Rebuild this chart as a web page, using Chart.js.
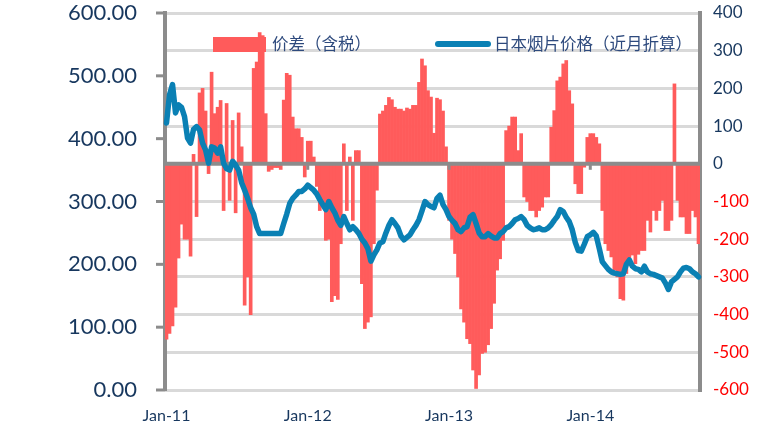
<!DOCTYPE html>
<html>
<head>
<meta charset="utf-8">
<script src="https://cdn.jsdelivr.net/npm/chart.js@4.4.1/dist/chart.umd.min.js"></script>
<style>
  html, body { margin: 0; padding: 0; background: #fff; }
  #wrap { width: 760px; height: 423px; }
</style>
</head>
<body>
<div id="wrap"><canvas id="chart"></canvas></div>
<script>
// weekly samples, Jan 2011 -> late 2014
const gapValues = [
  -465, -450, -430, -380, -250, -160, -200, -200, -245, 25,
  -140, 188, 200, 140, -26, 243, 133, 150, 168, -124,
  160, -97, 115, -130, 135, 45, -375, -300, -400, 253,
  270, 348, 340, 133, -20, -15, -10, -10, -15, 169,
  240, 235, 124, 93, 93, 70, -35, 60, 60, 18,
  -60, -124, -110, -203, -200, -366, -350, -360, -212, 53,
  -124, 18, -150, 35, 35, -318, -437, -420, -406, -212,
  -70, 132, 140, 155, 176, 170, 150, 145, 145, 140,
  148, 145, 155, 155, 216, 278, 260, 194, 177, 81,
  174, 170, 140, 45, -150, -200, -238, -300, -385, -420,
  -464, -477, -547, -596, -560, -503, -500, -480, -437, -370,
  -282, -252, -203, 88, 100, 124, 124, 35, 80, -88,
  -100, -124, -124, -141, -124, -115, -88, -88, 97, 141,
  220, 230, 265, 274, 194, 159, -53, -79, -79, -9,
  70, 80, 80, 70, 53, -124, -212, -230, -247, -282,
  -300, -358, -362, -291, -265, -242, -265, -240, -230, -230,
  -150, -181, -124, -150, -124, -97, -177, -177, -150, 212,
  -97, -141, -141, -185, -185, -124, -141, -212
];
const jpPrices = [
  425, 470, 486, 441, 454, 450, 435, 401, 393, 415,
  419, 414, 393, 382, 361, 387, 385, 377, 387, 361,
  352, 350, 364, 358, 350, 330, 318, 305, 290, 280,
  260, 249, 249, 249, 249, 249, 249, 249, 249, 265,
  280, 297, 305, 310, 316, 316, 320, 326, 322, 318,
  312, 303, 295, 287, 300, 290, 282, 270, 262, 276,
  265, 255, 260, 255, 249, 240, 234, 225, 205, 215,
  223, 234, 236, 250, 262, 271, 265, 258, 245, 239,
  243, 247, 255, 262, 271, 285, 300, 295, 292, 290,
  305, 310, 295, 287, 276, 270, 265, 255, 252, 258,
  260, 275, 279, 265, 250, 244, 244, 249, 245, 242,
  242, 249, 252, 258, 260, 265, 271, 273, 276, 271,
  262, 258, 255, 256, 258, 255, 255, 258, 263, 270,
  276, 287, 284, 275, 268, 255, 235, 222, 221, 232,
  244, 247, 251, 245, 225, 204, 198, 192, 188, 186,
  185, 184, 185, 200, 207, 197, 193, 192, 188, 197,
  188, 185, 184, 182, 180, 178, 170, 160, 172, 176,
  180, 188, 194, 195, 193, 188, 185, 180
];
const yearLabels = ["Jan-11", "Jan-12", "Jan-13", "Jan-14"];
const yearStart = [0, 47, 94, 141]; // sample index where each year begins

const gapName = "价差（含税）";
const priceName = "日本烟片价格（近月折算）";

const red = "#FF5B5B";
const blue = "#0A80B4";
const navy = "#17375E";
const axisGray = "#8C8C8C";
const gridGray = "#D9D9D9";

const labels = gapValues.map((v, i) => String(i));

const overlay = {
  id: "overlay",
  afterDatasetDraw(chart, args) {
    if (args.index !== 0) return;
    const ctx = chart.ctx;
    const area = chart.chartArea;
    const y0 = chart.scales.y1.getPixelForValue(0);
    ctx.save();
    ctx.strokeStyle = axisGray;
    ctx.lineWidth = 4;
    ctx.beginPath();
    ctx.moveTo(area.left, y0);
    ctx.lineTo(area.right, y0);
    ctx.stroke();
    // little year marks hanging off the zero line
    ctx.lineWidth = 3;
    yearStart.slice(1).forEach((i) => {
      const px = chart.scales.x.getPixelForValue(i);
      ctx.beginPath();
      ctx.moveTo(px, y0);
      ctx.lineTo(px, y0 + 6);
      ctx.stroke();
    });
    ctx.restore();
  },
  afterDraw(chart) {
    const ctx = chart.ctx;
    const area = chart.chartArea;
    ctx.save();
    // short outside ticks on the left axis
    ctx.strokeStyle = axisGray;
    ctx.lineWidth = 3;
    chart.scales.y.ticks.forEach((t) => {
      const py = chart.scales.y.getPixelForValue(t.value);
      ctx.beginPath();
      ctx.moveTo(area.left - 9, py);
      ctx.lineTo(area.left, py);
      ctx.stroke();
    });
    // legend
    ctx.fillStyle = red;
    ctx.fillRect(213, 37, 53, 15);
    ctx.strokeStyle = blue;
    ctx.lineWidth = 6;
    ctx.lineCap = "round";
    ctx.beginPath();
    ctx.moveTo(438, 44);
    ctx.lineTo(488, 44);
    ctx.stroke();
    ctx.fillStyle = "#2E4A7D";
    ctx.font = "16.5px 'Noto Sans CJK SC'";
    ctx.textBaseline = "middle";
    ctx.fillText(gapName, 272, 44);
    ctx.fillText(priceName, 494, 44);
    ctx.restore();
  },
};

new Chart(document.getElementById("chart"), {
  data: {
    labels: labels,
    datasets: [
      {
        type: "bar",
        label: gapName,
        data: gapValues,
        yAxisID: "y1",
        backgroundColor: red,
        borderWidth: 0,
        barPercentage: 1,
        categoryPercentage: 1,
        order: 2,
      },
      {
        type: "line",
        label: priceName,
        data: jpPrices,
        yAxisID: "y",
        borderColor: blue,
        borderWidth: 5.5,
        pointRadius: 0,
        tension: 0,
        borderJoinStyle: "round",
        borderCapStyle: "round",
        order: 1,
      },
    ],
  },
  options: {
    responsive: true,
    maintainAspectRatio: false,
    animation: false,
    devicePixelRatio: 1,
    layout: { padding: { top: 13, left: 0, right: 0, bottom: 0 } },
    plugins: {
      legend: { display: false },
      tooltip: { enabled: false },
    },
    scales: {
      x: {
        type: "category",
        grid: { display: false },
        border: { display: false },
        ticks: {
          autoSkip: false,
          maxRotation: 0,
          padding: 8,
          color: navy,
          font: { family: "Lato", size: 16 },
          callback: (val, idx) => {
            const k = yearStart.indexOf(idx);
            return k >= 0 ? yearLabels[k] : "";
          },
        },
        afterFit: (s) => { s.height = 33; },
      },
      y: {
        position: "left",
        min: 0,
        max: 600,
        ticks: {
          stepSize: 100,
          padding: 0,
          color: navy,
          font: { family: "Lato", size: 22, lineHeight: 1 },
          callback: (v) => v.toFixed(2),
        },
        grid: {
          drawOnChartArea: false,
          drawTicks: true,
          tickLength: 28,
          tickColor: "rgba(0,0,0,0)",
        },
        border: { color: axisGray, width: 4 },
        afterFit: (s) => { s.width = 165; },
      },
      y1: {
        position: "right",
        min: -600,
        max: 400,
        ticks: {
          stepSize: 100,
          padding: 0,
          color: (c) => (c.tick.value < 0 ? "#FF0000" : navy),
          font: { family: "Lato", size: 17, lineHeight: 1 },
        },
        grid: {
          drawOnChartArea: true,
          drawTicks: true,
          tickLength: 13,
          tickColor: "rgba(0,0,0,0)",
          color: (c) => (c.tick.value === 0 ? "rgba(0,0,0,0)" : gridGray),
          lineWidth: 3,
        },
        border: { color: axisGray, width: 4 },
        afterFit: (s) => { s.width = 60; },
      },
    },
  },
  plugins: [overlay],
});
</script>
</body>
</html>
